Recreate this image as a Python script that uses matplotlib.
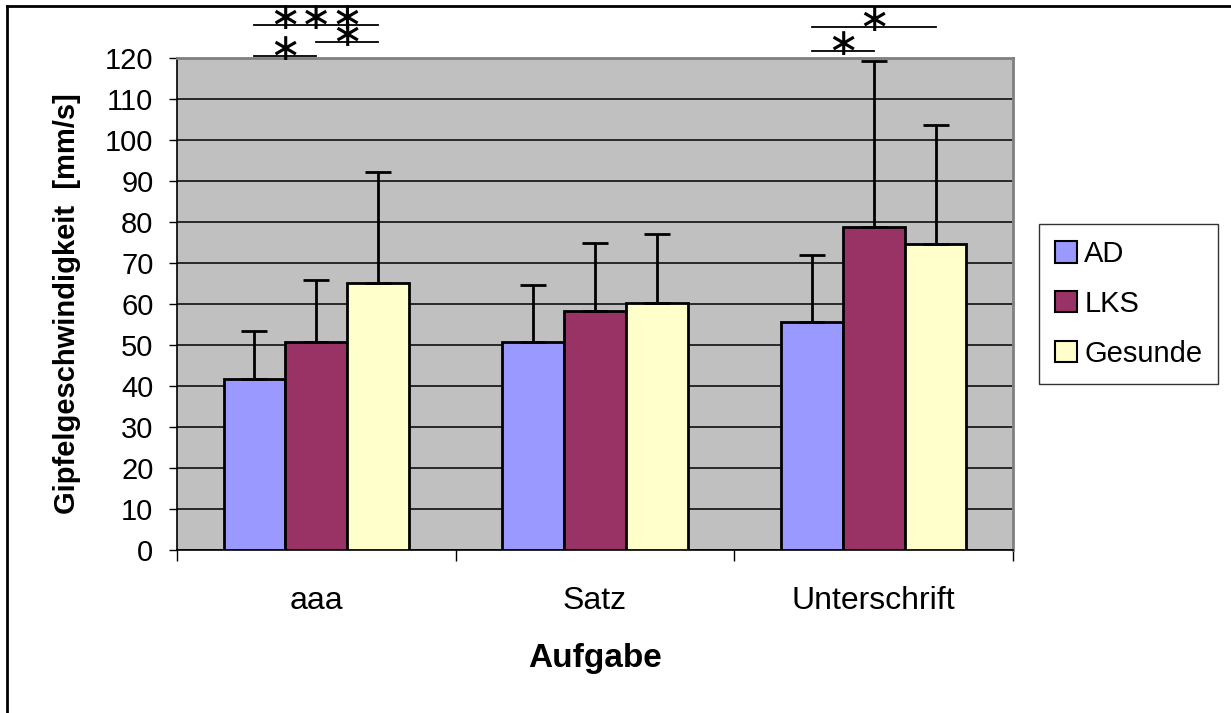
import matplotlib
matplotlib.use("Agg")
import matplotlib.pyplot as plt
from matplotlib.patches import Patch
from matplotlib.lines import Line2D
import numpy as np

plt.rcParams['font.family'] = ['Liberation Sans', 'DejaVu Sans']

categories = ["aaa", "Satz", "Unterschrift"]
series = ["AD", "LKS", "Gesunde"]
ad = [41.6, 50.8, 55.7]
lks = [50.8, 58.3, 78.9]
gesunde = [65.2, 60.2, 74.6]
ad_err = [11.8, 13.8, 16.3]
lks_err = [15.0, 16.7, 40.3]
gesunde_err = [26.9, 16.8, 29.1]
colors = ["#9999FF", "#993366", "#FFFFCC"]
# significance: (category index, series i, series j, bracket height, label)
sig_cat = [0, 0, 0, 2, 2]
sig_i = [0, 0, 1, 0, 0]
sig_j = [1, 2, 2, 1, 2]
sig_level = [120.5, 128.1, 124.0, 121.7, 127.6]
sig_label = ["∗", "∗∗∗", "∗", "∗", "∗"]

fig = plt.figure(figsize=(12.31, 7.13), dpi=100)
ax = fig.add_axes([177/1231, 1-550/713, (1013-177)/1231, (550-58)/713])
ax.set_facecolor("#C0C0C0")

x = np.arange(len(categories))
w = 0.222
vals = [ad, lks, gesunde]
errs = [ad_err, lks_err, gesunde_err]
offs = [-w, 0, w]
for k in range(3):
    ax.bar(x + offs[k], vals[k], w, color=colors[k], edgecolor="black", linewidth=2, zorder=3)
    ax.errorbar(x + offs[k], vals[k], yerr=[np.zeros(3), errs[k]], fmt="none",
                ecolor="black", elinewidth=2, capsize=9.5, capthick=2, zorder=4)

ax.set_ylim(0, 120)
ax.set_xlim(-0.5, 2.5)
ax.set_yticks(np.arange(0, 121, 10))
ax.yaxis.grid(True, color="black", linewidth=1.1, zorder=0)
ax.set_axisbelow(True)
ax.tick_params(axis="y", direction="out", length=6, width=1, labelsize=21, pad=11)
ax.set_xticks([-0.5, 0.5, 1.5, 2.5])
ax.set_xticklabels([])
ax.set_xticks(x, minor=True)
ax.set_xticklabels(categories, minor=True)
ax.tick_params(axis="x", which="major", direction="out", length=8, width=1)
ax.tick_params(axis="x", which="minor", length=0, labelsize=23, pad=26)
for s in ["top", "right"]:
    ax.spines[s].set_color("#808080")
    ax.spines[s].set_linewidth(2)
for s in ["left", "bottom"]:
    ax.spines[s].set_color("black")
    ax.spines[s].set_linewidth(1.2)

ax.set_ylabel("Gipfelgeschwindigkeit  [mm/s]", fontsize=21, fontweight="bold", labelpad=17)
ax.set_xlabel("Aufgabe", fontsize=24, fontweight="bold", labelpad=19)

for c, i, j, lev, lab in zip(sig_cat, sig_i, sig_j, sig_level, sig_label):
    x0 = c + offs[i]
    x1 = c + offs[j]
    ax.plot([x0, x1], [lev, lev], color="black", linewidth=1.3, clip_on=False, zorder=5)
    ax.annotate(lab, xy=((x0 + x1) / 2, lev), xytext=(0, 4), textcoords="offset points",
                ha="center", va="center", fontsize=27, family="DejaVu Sans",
                annotation_clip=False, zorder=6)

handles = [Patch(facecolor=colors[k], edgecolor="black", linewidth=1.5) for k in range(3)]
leg = fig.legend(handles, series, loc="upper left", bbox_to_anchor=(1039/1231, 1-224/713),
                 fontsize=21, frameon=True, fancybox=False, edgecolor="black",
                 handlelength=0.75, handleheight=0.75, handletextpad=0.25, labelspacing=0.75,
                 borderpad=0.55, borderaxespad=0)
leg.get_frame().set_linewidth(1)

fig.add_artist(Line2D([6.5/1231, 6.5/1231], [0, 1-5.5/713], color="black", linewidth=2, transform=fig.transFigure))
fig.add_artist(Line2D([6.5/1231, 1230/1231], [1-5.5/713, 1-5.5/713], color="black", linewidth=2, transform=fig.transFigure))

fig.savefig("out.png", dpi=100)
